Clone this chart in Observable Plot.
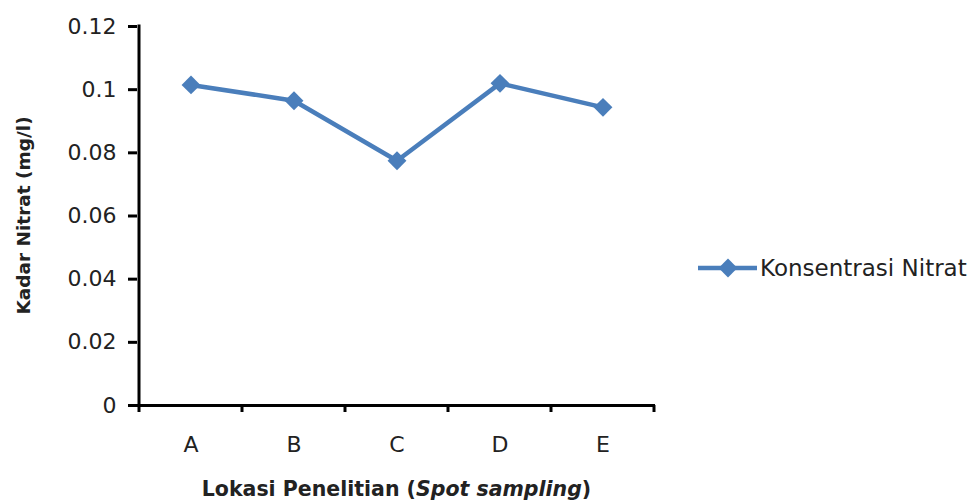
<!DOCTYPE html>
<html><head><meta charset="utf-8">
<script src="https://cdn.jsdelivr.net/npm/d3@7"></script>
<script src="https://cdn.jsdelivr.net/npm/@observablehq/plot@0.6"></script>
<style>
body{margin:0;background:#fff;}
#wrap{position:relative;width:971px;height:504px;overflow:hidden;background:#fff;}
#legend{position:absolute;left:697px;top:255px;display:flex;align-items:center;font-family:"DejaVu Sans";font-size:23px;color:#222;white-space:nowrap;}
</style></head><body><div id="wrap"></div>
<script>
const categories = ["A", "B", "C", "D", "E"];
const values = [0.1015, 0.0965, 0.0775, 0.102, 0.0944];
const yTicks = [0, 0.02, 0.04, 0.06, 0.08, 0.1, 0.12];
const seriesName = "Konsentrasi Nitrat";
const xTitleParts = ["Lokasi Penelitian (", "Spot sampling", ")"];
const yTitle = "Kadar Nitrat (mg/l)";
const color = "#4a7ebb";

const data = categories.map((c, i) => ({loc: c, val: values[i]}));

const plot = Plot.plot({
  width: 971, height: 504,
  marginLeft: 137, marginRight: 316, marginTop: 26, marginBottom: 99,
  style: {fontFamily: "DejaVu Sans", fontSize: "22px", color: "#222", background: "#fff", overflow: "visible"},
  x: {type: "band", domain: categories, padding: 0, label: null},
  y: {domain: [0, 0.12], label: null},
  marks: [
    Plot.axisY({ticks: yTicks, tickSize: 9, tickPadding: 12, tickFormat: d => String(d), strokeWidth: 3, stroke: "#000", label: null, fill: "#222"}),
    Plot.axisX({tickSize: 0, tickPadding: 31, label: null, fill: "#222"}),
    Plot.ruleY([0], {stroke: "#000", strokeWidth: 3}),
    Plot.line(data, {x: "loc", y: "val", stroke: color, strokeWidth: 4.5}),
    Plot.dot(data, {x: "loc", y: "val", symbol: "diamond2", r: 8.5, fill: color, stroke: null})
  ]
});

const svg = d3.select(plot);
svg.selectAll("g[aria-label$='tick label']").attr("font-size", 22).style("font-size", "22px");
const xs = plot.scale("x");
const ys = plot.scale("y");
const [y0, y1] = [ys.apply(0), ys.apply(0.12)];
const xLeft = xs.apply(categories[0]);
const xRight = xs.apply(categories[categories.length - 1]) + xs.bandwidth;

// y axis line
svg.append("line").attr("x1", xLeft).attr("x2", xLeft).attr("y1", y1 - 1.5).attr("y2", y0 + 1.5)
  .attr("stroke", "#000").attr("stroke-width", 3);
// x edge ticks
const edges = categories.map(c => xs.apply(c)).concat([xRight]);
svg.selectAll("line.edge").data(edges).join("line").attr("class", "edge")
  .attr("x1", d => d).attr("x2", d => d).attr("y1", y0).attr("y2", y0 + 7)
  .attr("stroke", "#000").attr("stroke-width", 3);

// x title
const xt = svg.append("text").attr("x", (xLeft + xRight) / 2).attr("y", 496)
  .attr("text-anchor", "middle").attr("font-family", "DejaVu Sans").attr("font-weight", "bold")
  .attr("font-size", 20.5).attr("fill", "#222");
xt.append("tspan").text(xTitleParts[0]);
xt.append("tspan").attr("font-style", "italic").text(xTitleParts[1]);
xt.append("tspan").text(xTitleParts[2]);

// y title
svg.append("text").attr("transform", `translate(30,${(y0 + y1) / 2}) rotate(-90)`)
  .attr("text-anchor", "middle").attr("font-family", "DejaVu Sans").attr("font-weight", "bold")
  .attr("font-size", 18.5).attr("fill", "#222").text(yTitle);

const wrap = document.getElementById("wrap");
wrap.appendChild(plot);

// legend
const leg = document.createElement("div");
leg.id = "legend";
const ls = d3.create("svg").attr("width", 62).attr("height", 26);
ls.append("line").attr("x1", 1).attr("x2", 60).attr("y1", 13).attr("y2", 13).attr("stroke", color).attr("stroke-width", 4.5);
ls.append("path").attr("d", d3.symbol(d3.symbolDiamond2, Math.PI * 8.5 * 8.5)()).attr("transform", "translate(31,13)").attr("fill", color);
leg.appendChild(ls.node());
const sp = document.createElement("span");
sp.textContent = seriesName;
sp.style.marginLeft = "1px";
leg.appendChild(sp);
wrap.appendChild(leg);
</script>
</body></html>
